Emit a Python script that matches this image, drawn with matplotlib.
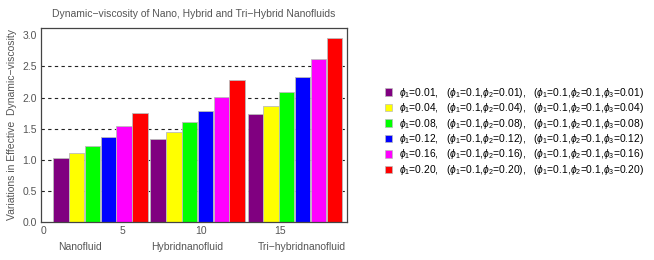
import matplotlib
matplotlib.use("Agg")
import matplotlib.pyplot as plt
from matplotlib.patches import Patch
import numpy as np

plt.rcParams['font.family'] = ['Liberation Sans', 'DejaVu Sans']
plt.rcParams['mathtext.fontset'] = 'custom'
plt.rcParams['mathtext.rm'] = 'Liberation Sans'
plt.rcParams['mathtext.it'] = 'Liberation Sans:italic'

groups = ["Nanofluid", "Hybridnanofluid", "Tri\u2212hybridnanofluid"]
phi_labels = ["0.01", "0.04", "0.08", "0.12", "0.16", "0.20"]
colors = ["#800080", "#ffff00", "#00ff00", "#0000ff", "#ff00ff", "#ff0000"]
nano = [1.03, 1.11, 1.23, 1.375, 1.545, 1.75]
hybrid = [1.33, 1.44, 1.605, 1.79, 2.01, 2.275]
trihybrid = [1.74, 1.87, 2.09, 2.33, 2.615, 2.955]
values = [nano, hybrid, trihybrid]

fig = plt.figure(figsize=(6.54, 2.60), dpi=100)
ax = fig.add_axes([0.0625, 0.145, 0.4675, 0.7485])

gray = "#555555"
width = 0.97
group_gap = 0.15
for g, vals in enumerate(values):
    for i, v in enumerate(vals):
        left = 0.63 + g * (6 + group_gap) + i * 1.0
        ax.bar(left, v, width=width, align='edge', color=colors[i],
               edgecolor="#bbbbbb", linewidth=0.6, zorder=2)

for yv in [0.5, 1.0, 1.5, 2.0, 2.5]:
    ax.axhline(yv, color="#222222", linestyle=(0, (3, 3)), linewidth=0.8, zorder=1)

ax.set_xlim(-0.15, 19.2)
ax.set_ylim(0, 3.12)
ax.set_xticks([0, 5, 10, 15])
ax.set_yticks([0.0, 0.5, 1.0, 1.5, 2.0, 2.5, 3.0])
ax.set_yticklabels(["0.0", "0.5", "1.0", "1.5", "2.0", "2.5", "3.0"])
ax.tick_params(axis='both', labelsize=7.5, colors=gray, length=0, pad=3)
for s in ax.spines.values():
    s.set_color("#444444")
    s.set_linewidth(0.9)

group_centers = [2.35, 9.1, 16.4]
for gx, name in zip(group_centers, groups):
    ax.text(gx, -0.4, name, ha='center', va='center', fontsize=7.5,
            color=gray, transform=ax.transData, clip_on=False)

ax.set_ylabel("Variations in Effective  Dynamic\u2212viscosity", fontsize=7.5,
              color=gray, labelpad=4)
ax.set_title("Dynamic\u2212viscosity of Nano, Hybrid and Tri\u2212Hybrid Nanofluids",
             fontsize=7.5, color=gray, pad=8)

handles = [Patch(facecolor=c, edgecolor="#bbbbbb", linewidth=0.5) for c in colors]
labels = [r"$\phi_1$=%s,   ($\phi_1$=0.1,$\phi_2$=%s),   ($\phi_1$=0.1,$\phi_2$=0.1,$\phi_3$=%s)" % (p, p, p)
          for p in phi_labels]
fig.legend(handles, labels, loc='center left', bbox_to_anchor=(0.582, 0.495),
           frameon=False, fontsize=7.4, handlelength=0.75, handleheight=0.75,
           handletextpad=0.6, labelspacing=0.14, borderaxespad=0)

fig.savefig("out.png", dpi=100)
